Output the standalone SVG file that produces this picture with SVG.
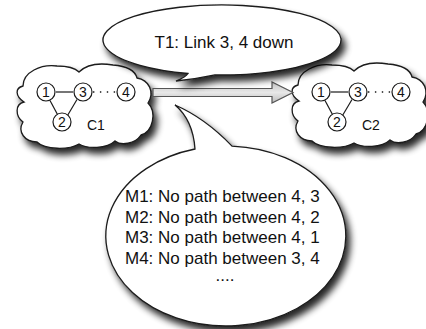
<svg xmlns="http://www.w3.org/2000/svg" width="426" height="329" viewBox="0 0 426 329">
<defs>
<filter id="sh" x="-20%" y="-20%" width="150%" height="160%">
<feGaussianBlur in="SourceAlpha" stdDeviation="3.5"/>
<feOffset dx="4" dy="6" result="b"/>
<feComponentTransfer in="b" result="s"><feFuncA type="linear" slope="0.85"/></feComponentTransfer>
<feMerge><feMergeNode in="s"/><feMergeNode in="SourceGraphic"/></feMerge>
</filter>
<linearGradient id="ag" x1="0" y1="0" x2="0" y2="1">
<stop offset="0" stop-color="#c4c4c4"/><stop offset="0.5" stop-color="#e8e8e8"/><stop offset="1" stop-color="#bcbcbc"/>
</linearGradient>
<path id="cloud" d="M6,22 C6,8 24,0 40,2 C50,2 58,4 62,8 C70,0 84,-1 96,1 C108,2 118,6 120,14 C132,16 138,28 131,39 C140,48 136,68 124,71 C118,80 104,82 98,77 C90,85 70,85 62,80 C52,86 28,86 20,78 C8,78 0,68 6,58 C-2,52 -2,40 7,38 C-2,32 -2,24 6,22 Z"/>
</defs>
<style>
.shape{fill:#fff;stroke:#1a1a1a;stroke-width:1.3}
.n{fill:#fff;stroke:#1a1a1a;stroke-width:1.2}
.e{stroke:#1a1a1a;stroke-width:1.2;fill:none}
.d{stroke:#1a1a1a;stroke-width:1.4;fill:none;stroke-dasharray:1.4 5.5}
.t{font-family:"Liberation Sans",Arial,sans-serif;fill:#111}
.dg{font-size:14px;text-anchor:middle}
</style>
<g id="cloud-c1" transform="translate(17,64)">
<use href="#cloud" class="shape" filter="url(#sh)"/>
<line class="e" x1="39" y1="28" x2="56" y2="28"/>
<line class="e" x1="33" y1="36.5" x2="40.5" y2="50.5"/>
<line class="e" x1="60" y1="35.5" x2="50.5" y2="51.5"/>
<line class="d" x1="76" y1="28" x2="100" y2="28"/>
<circle class="n" cx="29" cy="28" r="9"/>
<circle class="n" cx="66" cy="28" r="9"/>
<circle class="n" cx="109" cy="28" r="9"/>
<circle class="n" cx="45" cy="58" r="9"/>
<text class="t dg" x="29" y="33">1</text>
<text class="t dg" x="66" y="33">3</text>
<text class="t dg" x="109" y="33">4</text>
<text class="t dg" x="45" y="63">2</text>
<text class="t" x="70" y="66" font-size="14">C1</text>
</g>
<g id="cloud-c2" transform="translate(292,63)">
<use href="#cloud" class="shape" filter="url(#sh)"/>
<line class="e" x1="39" y1="29" x2="56" y2="29"/>
<line class="e" x1="33" y1="37.5" x2="40.5" y2="51.5"/>
<line class="e" x1="60" y1="36.5" x2="50.5" y2="52.5"/>
<line class="d" x1="76" y1="29" x2="100" y2="29"/>
<circle class="n" cx="29" cy="29" r="9"/>
<circle class="n" cx="66" cy="29" r="9"/>
<circle class="n" cx="109" cy="29" r="9"/>
<circle class="n" cx="45" cy="59" r="9"/>
<text class="t dg" x="29" y="34">1</text>
<text class="t dg" x="66" y="34">3</text>
<text class="t dg" x="109" y="34">4</text>
<text class="t dg" x="45" y="64">2</text>
<text class="t" x="70" y="67" font-size="14">C2</text>
</g>
<g id="connectors">
<path d="M153,88.5 L272,88.5 L272,82 L293,92.5 L272,103 L272,96.5 L153,96.5 Z" fill="url(#ag)" stroke="#555" stroke-width="1.2"/>
</g>
<g id="bubble-t1">
<path class="shape" filter="url(#sh)" d="M188,73.5 A119,35 0 1,1 215,74.9 Q196,79 176,81 Q186,77 188,73.5 Z"/>
<text class="t" x="224" y="48" font-size="17" text-anchor="middle">T1: Link 3, 4 down</text>
</g>
<g id="bubble-m">
<path class="shape" filter="url(#sh)" d="M195,149 A120,90 0 1,0 232,146.1 Q205,118 175,105 Q193,120 195,149 Z"/>
<text class="t" font-size="17">
<tspan x="125" y="202">M1: No path between 4, 3</tspan>
<tspan x="125" y="222.5">M2: No path between 4, 2</tspan>
<tspan x="125" y="243">M3: No path between 4, 1</tspan>
<tspan x="125" y="263.5">M4: No path between 3, 4</tspan>
</text>
<text class="t" x="225" y="281" font-size="17" text-anchor="middle">....</text>
</g>
</svg>
